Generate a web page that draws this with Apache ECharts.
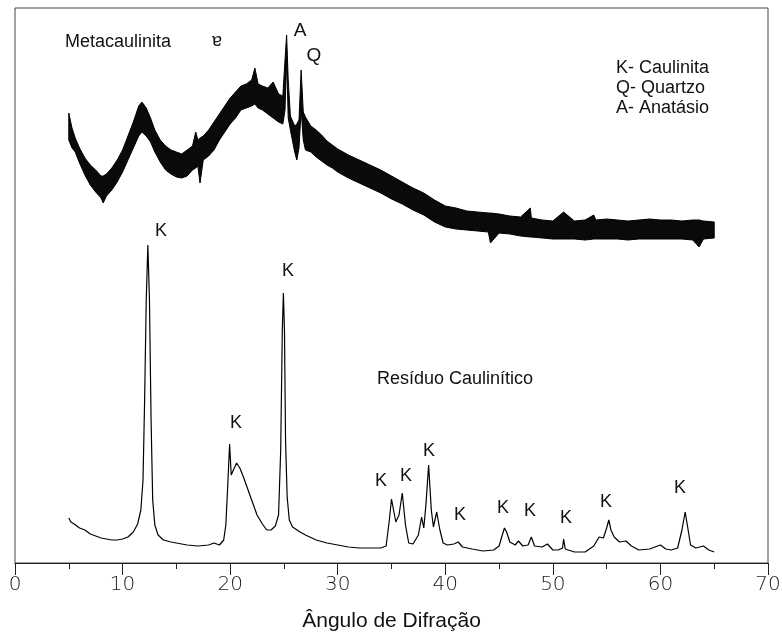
<!DOCTYPE html>
<html>
<head>
<meta charset="utf-8">
<script src="https://cdn.jsdelivr.net/npm/echarts@6/dist/echarts.min.js"></script>
<style>
html,body{margin:0;padding:0;background:#fff;}
#chart{width:782px;height:632px;}
</style>
</head>
<body>
<div id="chart"></div>
<script>
// X axis tick labels
var xTicks = [0, 10, 20, 30, 40, 50, 60, 70];

// Metacaulinita: noisy trace, read as lower / upper edge of the noise band (arb. units)
var metaAngle = [5.0,5.3,5.6,6.0,6.5,7.0,7.5,8.0,8.2,8.5,9.0,9.5,10.0,10.5,11.0,11.5,11.8,12.2,12.6,13.0,13.5,14.0,14.5,15.0,15.5,16.0,16.5,16.8,17.0,17.2,17.5,18.0,18.5,19.0,19.5,20.0,20.5,21.0,21.5,22.0,22.3,22.6,23.0,23.5,24.0,24.5,24.9,25.1,25.25,25.4,25.6,26.0,26.2,26.4,26.6,26.8,27.0,27.5,28.0,28.5,29.0,29.5,30.0,31.0,32.0,33.0,34.0,35.0,36.0,37.0,38.0,39.0,40.0,41.0,42.0,43.0,44.0,44.2,45.0,46.0,47.0,47.9,48.0,49.0,50.0,51.0,52.0,53.0,53.8,54.0,55.0,56.0,57.0,58.0,59.0,60.0,61.0,62.0,63.0,63.6,64.0,65.0];
var metaHigh = [450,435,425,415,405,398,393,387,387,389,395,403,413,427,441,457,461,455,445,433,423,417,413,411,409,413,417,431,423,425,427,433,441,449,457,465,471,477,479,483,495,479,477,475,481,469,467,503,528,483,447,437,439,443,493,451,446,437,433,428,422,418,414,408,403,398,393,387,381,375,370,363,357,355,352,351,350,350,349,347,346,355,345,343,342,351,342,343,348,343,344,343,342,343,344,343,343,342,343,343,342,341];
var metaLow = [423,415,411,400,388,378,371,365,360,367,373,381,391,403,415,427,431,427,421,411,401,393,389,386,385,387,393,395,397,380,403,407,413,423,431,439,445,453,455,457,459,455,453,449,445,441,439,453,503,445,433,411,403,415,453,423,413,411,406,402,398,395,391,385,380,375,370,364,359,353,348,341,336,334,333,332,331,320,330,329,327,326,326,325,324,324,324,323,324,324,324,324,323,324,324,324,324,324,323,316,324,325];

// Residuo Caulinitico
var residuoAngle = [5.0,5.2,5.5,6.0,6.5,7.0,7.5,8.0,8.5,9.0,9.5,10.0,10.5,11.0,11.4,11.7,11.9,12.05,12.2,12.35,12.5,12.65,12.8,13.0,13.3,13.8,14.5,15.0,16.0,17.0,18.0,18.5,19.0,19.4,19.6,19.8,19.95,20.1,20.3,20.6,20.9,21.2,21.6,22.0,22.5,23.0,23.4,23.8,24.2,24.5,24.7,24.85,24.95,25.05,25.15,25.3,25.5,25.8,26.5,27.0,28.0,29.0,30.0,31.0,32.0,33.0,34.0,34.5,34.8,35.0,35.4,35.7,36.0,36.3,36.6,37.0,37.5,37.8,38.0,38.2,38.45,38.7,38.9,39.2,39.5,39.8,40.2,40.8,41.2,41.6,42.5,43.5,44.5,45.0,45.3,45.5,45.7,46.0,46.5,46.8,47.2,47.7,48.0,48.3,49.0,49.5,50.0,50.5,50.9,51.0,51.15,52.0,53.0,53.8,54.3,54.7,55.0,55.2,55.4,55.7,56.2,56.8,57.3,58.0,59.0,60.0,60.5,61.0,61.6,62.0,62.3,62.5,62.8,63.3,64.0,64.5,65.0];
var residuoInt = [45,41,39,35,33,29,27,25,24,23,23,24,26,31,39,53,83,163,263,318,263,143,63,38,28,23,21,20,18,17,18,20,18,23,38,83,119,88,93,100,95,87,75,63,48,39,33,33,37,48,113,233,270,233,123,66,43,36,31,28,23,20,18,16,15,15,15,17,43,64,41,48,70,38,20,19,28,46,35,58,98,53,36,51,33,20,18,19,21,16,14,12,13,17,28,35,31,21,18,22,17,18,26,17,16,19,13,13,15,24,14,11,11,17,26,25,35,43,33,26,21,22,17,13,14,18,14,13,15,33,51,38,18,15,17,13,11];

// Annotations
var peakLabels = ['K','K','K','K','K','K','K','K','K','K','K','K'];

function pairs(xs, ys) { return xs.map(function (x, i) { return [x, ys[i]]; }); }

var chart = echarts.init(document.getElementById('chart'), null, {renderer: 'canvas'});

var txt = function (s, x, y, size, align) {
  return {
    type: 'text', x: x, y: y, silent: true, z: 100,
    style: {
      text: s, fill: '#111', fontSize: size,
      fontFamily: '"Liberation Sans", Arial, sans-serif',
      align: align || 'center', verticalAlign: 'middle'
    }
  };
};

// label centres (pixels) for the K peak markers
var kPos = [[161,231],[236,423],[288,271],[381,481],[406,476],[429,451],[460,515],[503,508],[530,511],[566,518],[606,502],[680,488]];

var graphics = [
  txt('Metacaulinita', 65, 42, 18, 'left'),
  txt('\u0250', 217, 41, 18),
  txt('A', 300, 31, 19),
  txt('Q', 314, 56, 19),
  txt('K- Caulinita', 616, 68, 18, 'left'),
  txt('Q- Quartzo', 616, 88, 18, 'left'),
  txt('A- Anatásio', 616, 108, 18, 'left'),
  txt('Resíduo Caulinítico', 377, 379, 18, 'left')
];
kPos.forEach(function (p, i) { graphics.push(txt(peakLabels[i], p[0], p[1], 18)); });

chart.setOption({
  animation: false,
  backgroundColor: '#fff',
  grid: {left: 15, right: 14, top: 8, bottom: 69, show: true, borderColor: '#444', borderWidth: 1,
         containLabel: false, outerBoundsMode: 'none'},
  xAxis: {
    type: 'value', min: 0, max: 70, interval: 10,
    name: 'Ângulo de Difração', nameLocation: 'middle', nameGap: 48, nameMoveOverlap: false,
    nameTextStyle: {fontSize: 21, color: '#111', fontFamily: '"Liberation Sans", Arial, sans-serif'},
    axisLine: {show: true, onZero: false, lineStyle: {color: '#222', width: 1}},
    axisTick: {show: true, inside: false, length: 12, lineStyle: {color: '#222'}},
    minorTick: {show: true, splitNumber: 2, length: 6, lineStyle: {color: '#222'}},
    splitLine: {show: false},
    axisLabel: {
      margin: 12, fontSize: 20, color: '#222', fontWeight: 200,
      fontFamily: '"DejaVu Sans", sans-serif',
      formatter: function (v) { return xTicks.indexOf(v) >= 0 ? String(v) : ''; }
    }
  },
  yAxis: {type: 'value', min: 0, max: 555, show: false},
  graphic: graphics,
  series: [
    {
      name: 'Metacaulinita', type: 'custom',
      data: [[metaAngle[0], metaLow[0]]],
      encode: {x: 0, y: 1},
      renderItem: function (params, api) {
        var top = metaAngle.map(function (a, i) { return api.coord([a, metaHigh[i]]); });
        var bottom = metaAngle.map(function (a, i) { return api.coord([a, metaLow[i]]); }).reverse();
        return {
          type: 'polygon',
          shape: {points: top.concat(bottom)},
          style: {fill: '#0a0a0a', stroke: '#000', lineWidth: 1}
        };
      },
      z: 2, silent: true
    },
    {
      name: 'Resíduo Caulinítico', type: 'line', data: pairs(residuoAngle, residuoInt),
      showSymbol: false, symbol: 'none', lineStyle: {color: '#000', width: 1.2}, z: 3
    }
  ]
});
</script>
</body>
</html>
